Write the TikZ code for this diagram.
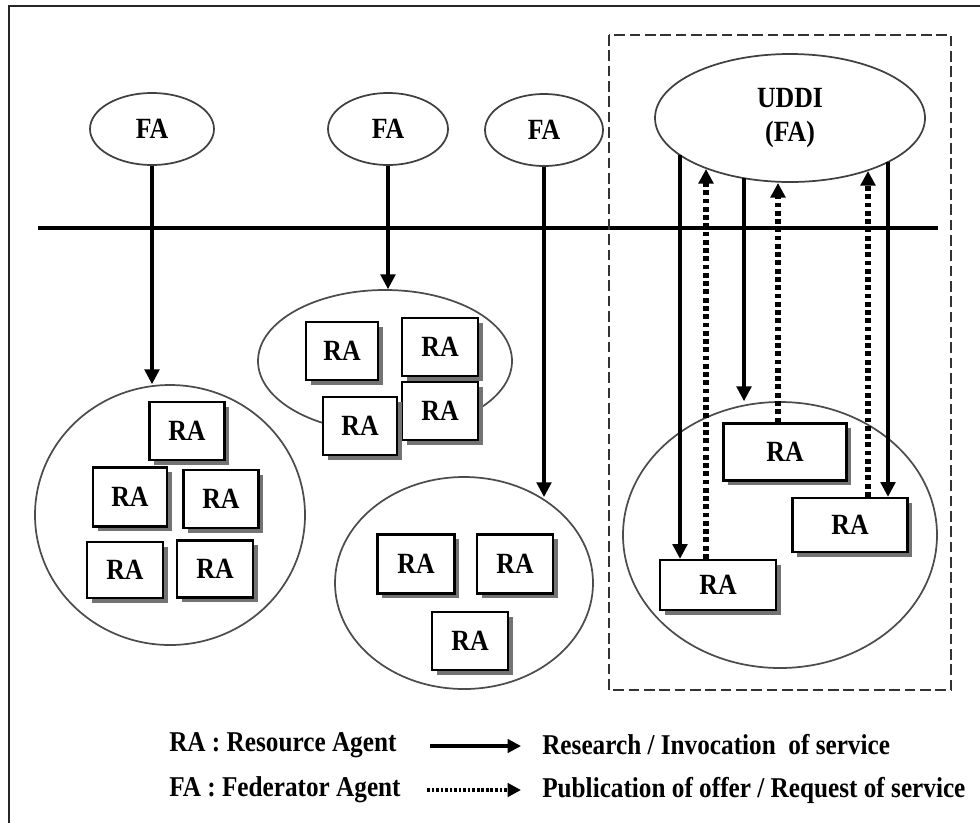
\documentclass[tikz,border=0pt]{standalone}
\usepackage{fontspec}
\setmainfont{Liberation Serif}[FakeStretch=0.88]
\usetikzlibrary{arrows.meta,shapes.geometric,shadows}
\begin{document}
\begin{tikzpicture}[x=0.75pt,y=-0.75pt,
  lbl/.style={font=\fontsize{22}{26}\selectfont\bfseries},
  leg/.style={font=\fontsize{21.5}{24}\selectfont\bfseries, inner sep=0pt},
  sz/.style 2 args={minimum width=#1*0.75pt, minimum height=#2*0.75pt},
  fa/.style={ellipse, draw=black!75, line width=1.3pt, fill=white, inner sep=0pt, lbl},
  grp/.style={ellipse, draw=black!70, line width=1.3pt, inner sep=0pt},
  ra/.style={draw=black, line width=1.8pt, fill=white, inner sep=0pt, lbl,
    general shadow={fill=black!55, shadow xshift=3.5pt, shadow yshift=-3.5pt}},
  solidarr/.style={line width=2.3pt, -{Triangle[width=11pt,length=11pt]}},
  dotarr/.style={line width=4.2pt, dash pattern=on 3.6pt off 2.6pt, -{Triangle[width=11pt,length=11pt]}},
  legsolid/.style={line width=2.4pt, -{Triangle[width=10pt,length=10pt]}},
  legdot/.style={line width=3pt, dash pattern=on 2pt off 1.4pt, -{Triangle[width=10pt,length=10pt]}},
  frame/.style={line width=2.2pt, draw=black!85},
  bus/.style={line width=2.3pt},
  zone/.style={line width=1.7pt, draw=black!80, dash pattern=on 8pt off 3.5pt}
]
\useasboundingbox (0,0) rectangle (980,822);
% outer frame
\draw[frame] (9,830) -- (9,6) -- (990,6);
% bus line
\coordinate (busL) at (38,228);
\coordinate (busR) at (938,228);
\draw[bus] (busL) -- (busR);
% UDDI zone
\draw[zone] (609,35) rectangle (951,690);

% federator agents
\node[fa, sz={124}{72}] (fa1) at (152,129) {FA};
\node[fa, sz={120}{72}] (fa2) at (388,129) {FA};
\node[fa, sz={118}{72}] (fa3) at (544,130) {FA};
\node[fa, sz={270}{128}, align=center] (uddi) at (790,118) {UDDI\\(FA)};

% groups
\node[grp, sz={270}{260}] (g1) at (170,515) {};
\node[grp, sz={254}{142}] (g2) at (385,361) {};
\node[grp, sz={258}{212}] (g3) at (464,583) {};
\node[grp, sz={314}{266}] (g4) at (780,535) {};

% resource agents, group 1
\node[ra, sz={75}{58}] (b1) at (187,431) {RA};
\node[ra, sz={74}{59}] (b2) at (130,497) {RA};
\node[ra, sz={75}{58}] (b3) at (221,499) {RA};
\node[ra, sz={76}{56}] (b4) at (125,570) {RA};
\node[ra, sz={76}{57}] (b5) at (215,569) {RA};
% group 2
\node[ra, sz={72}{58}] (c1) at (342,351) {RA};
\node[ra, sz={76}{58}] (c2) at (440,347) {RA};
\node[ra, sz={76}{58}] (c4) at (440,411) {RA};
\node[ra, sz={74}{58}] (c3) at (360,426) {RA};
% group 3
\node[ra, sz={77}{59}] (d1) at (416,564) {RA};
\node[ra, sz={76}{59}] (d2) at (515,564) {RA};
\node[ra, sz={76}{58}] (d3) at (470,641) {RA};
% group 4 (UDDI)
\node[ra, sz={123}{57}] (ra) at (785,452) {RA};
\node[ra, sz={115}{54}] (rb) at (850,525) {RA\hspace{40pt}};
\node[ra, sz={116}{50}] (rc) at (718,585) {RA};

% FA arrows
\draw[solidarr] (fa1.south) -- (fa1.south |- g1.north);
\draw[solidarr] (fa2.south) -- (fa2.south |- g2.north);
\coordinate (fa3t) at (544,497);
\draw[solidarr] (fa3.south) -- (fa3t);

% UDDI arrows
\coordinate (u1) at (680,155);
\coordinate (u2) at (706,169);
\coordinate (u3) at (744,178);
\coordinate (u4) at (778,183);
\coordinate (u5) at (868,171);
\coordinate (u6) at (888,162);
\draw[solidarr] (u1) -- (u1 |- rc.north);
\draw[dotarr] (u2 |- rc.north) -- (u2);
\draw[solidarr] (u3) -- (u3 |- g4.north);
\draw[dotarr] (u4 |- ra.north) -- (u4);
\draw[dotarr] (u5 |- rb.north) -- (u5);
\draw[solidarr] (u6) -- (u6 |- rb.north);

% legend
\node[leg, anchor=west] (k1) at (169,745) {RA : Resource Agent};
\node[leg, anchor=west] (k2) at (169,790) {FA : Federator Agent};
\coordinate (la1) at (430,746);
\coordinate (lb1) at (521,746);
\coordinate (la2) at (427,790);
\coordinate (lb2) at (521,790);
\draw[legsolid] (la1) -- (lb1);
\draw[legdot] (la2) -- (lb2);
\node[leg, anchor=west] (k3) at (542,745) {Research / Invocation\ \ of service};
\node[leg, anchor=west] (k4) at (542,790) {Publication of offer / Request of service};
\end{tikzpicture}
\end{document}
